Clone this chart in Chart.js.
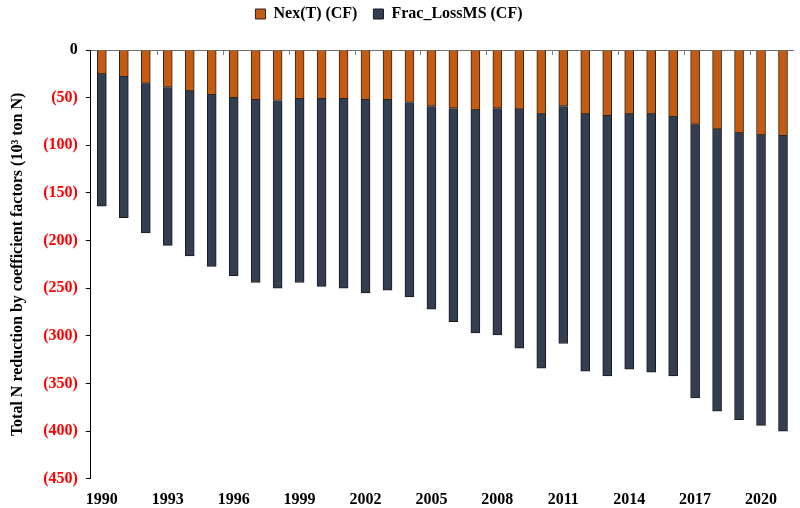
<!DOCTYPE html>
<html>
<head>
<meta charset="utf-8">
<script src="https://cdn.jsdelivr.net/npm/chart.js@4.4.1/dist/chart.umd.min.js"></script>
<style>
  html, body { margin: 0; padding: 0; background: #fff; }
  #wrap { width: 800px; height: 508px; position: relative; }
</style>
</head>
<body>
<div id="wrap"><canvas id="chart"></canvas></div>
<script>
// years on the category axis
const years = ['1990','1991','1992','1993','1994','1995','1996','1997','1998','1999',
  '2000','2001','2002','2003','2004','2005','2006','2007','2008','2009',
  '2010','2011','2012','2013','2014','2015','2016','2017','2018','2019','2020','2021']

// 10^3 ton N
const nexT = [-25,-28,-35,-39,-43,-47,-50,-52,-53,-51,
  -51,-51,-52,-52,-55,-59,-61,-63,-61,-62,
  -67,-59,-67,-69,-67,-67,-70,-78,-83,-87,-89,-90]
const fracLossMS = [-139,-148,-157,-166,-173,-180,-187,-192,-197,-193,
  -197,-199,-203,-200,-204,-213,-224,-234,-238,-251,
  -267,-249,-270,-273,-268,-271,-272,-287,-296,-301,-305,-310]

const yTicks = [0,-50,-100,-150,-200,-250,-300,-350,-400,-450]

const serif = "'Liberation Serif', 'Times New Roman', serif"

// extra room under the legend, and nudge it a bit left
const legendGap = {
  id: 'legendGap',
  beforeInit(chart) {
    const fit = chart.legend.fit
    chart.legend.fit = function() {
      fit.bind(chart.legend)()
      this.height += 18
    }
  },
  afterLayout(chart) {
    chart.legend.left -= 12
    chart.legend.right -= 12
  }
}

// small tick marks hanging from the top category line, every 3 years
const topTicks = {
  id: 'topTicks',
  afterDatasetsDraw(chart) {
    const x = chart.scales.x
    const area = chart.chartArea
    const ctx = chart.ctx
    const step = (x.getPixelForValue(1) - x.getPixelForValue(0))
    ctx.save()
    ctx.strokeStyle = '#7f7f7f'
    ctx.lineWidth = 1
    for (let i = 3; i < years.length; i += 3) {
      const px = Math.round(x.getPixelForValue(i) - step / 2) + 0.5
      ctx.beginPath()
      ctx.moveTo(px, area.top)
      ctx.lineTo(px, area.top + 5)
      ctx.stroke()
    }
    ctx.restore()
  }
}

new Chart(document.getElementById('chart'), {
  type: 'bar',
  data: {
    labels: years,
    datasets: [
      {label: 'Nex(T) (CF)', data: nexT, backgroundColor: '#C55A11', borderColor: '#262626', borderWidth: 1, barThickness: 9},
      {label: 'Frac_LossMS (CF)', data: fracLossMS, backgroundColor: '#333F50', borderColor: '#1a1a1a', borderWidth: 1, barThickness: 9}
    ]
  },
  options: {
    responsive: true,
    maintainAspectRatio: false,
    animation: false,
    layout: {padding: {left: 8, right: 6, top: -10, bottom: -12}},
    plugins: {
      tooltip: {enabled: false},
      legend: {
        position: 'top',
        labels: {
          boxWidth: 10, boxHeight: 10, padding: 16,
          color: '#000',
          font: {family: serif, size: 16, weight: 'bold'}
        }
      }
    },
    scales: {
      x: {
        stacked: true,
        grid: {display: false, drawTicks: false},
        border: {display: false},
        ticks: {
          autoSkip: false, maxRotation: 0, padding: 11,
          color: '#000',
          font: {family: serif, size: 16, weight: 'bold'},
          callback: (v, i) => (i % 3 === 0 ? years[i] : '')
        }
      },
      y: {
        stacked: true,
        min: -450, max: 0,
        afterBuildTicks: (s) => { s.ticks = yTicks.map(v => ({value: v})) },
        grid: {
          color: (c) => (c.tick && c.tick.value === 0 ? '#6f6f6f' : 'rgba(0,0,0,0)'),
          tickColor: '#000',
          tickLength: 5
        },
        border: {display: true, color: '#000', width: 1},
        ticks: {
          padding: 8,
          color: (c) => (c.tick && c.tick.value === 0 ? '#000' : '#ff0000'),
          font: {family: serif, size: 16, weight: 'bold'},
          callback: (v) => (v === 0 ? '0' : '(' + Math.abs(v) + ')')
        },
        title: {
          display: true,
          text: 'Total N reduction by coefficient factors (10³ ton N)',
          color: '#000',
          padding: {top: 0, bottom: 8},
          font: {family: serif, size: 16, weight: 'bold'}
        }
      }
    }
  },
  plugins: [legendGap, topTicks]
})
</script>
</body>
</html>
